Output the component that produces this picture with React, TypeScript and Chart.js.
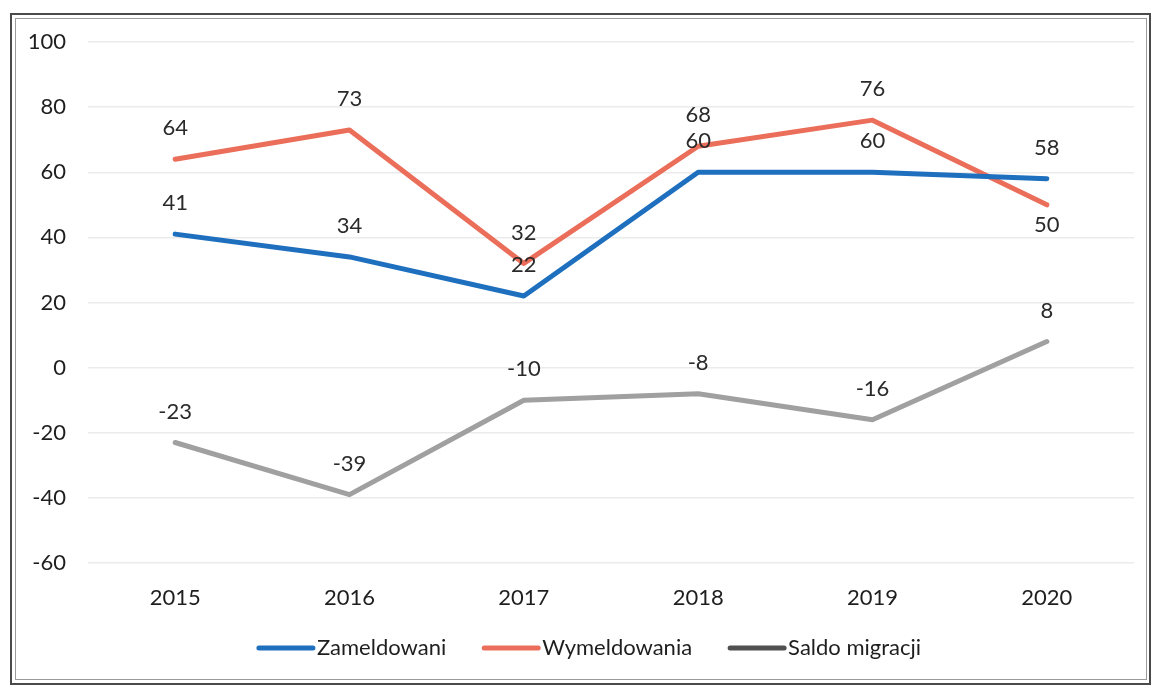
import React, { useEffect, useRef } from "react";
import { Chart, registerables } from "chart.js";

Chart.register(...registerables);

const years = ["2015", "2016", "2017", "2018", "2019", "2020"];
const zameldowani = [41, 34, 22, 60, 60, 58];
const wymeldowania = [64, 73, 32, 68, 76, 50];
const saldoMigracji = [-23, -39, -10, -8, -16, 8];
const seriesNames = ["Zameldowani", "Wymeldowania", "Saldo migracji"];
const yTicks = [100, 80, 60, 40, 20, 0, -20, -40, -60];
// where each value label sits relative to its point
const labelSides = [
  ["above", "above", "above", "above", "above", "above"],
  ["above", "above", "above", "above", "above", "below"],
  ["above", "above", "above", "above", "above", "above"],
];

const COLORS = ["#1f6fbf", "#eb6e5a", "#a0a0a0"];
const FONT = "Lato, 'Open Sans', sans-serif";
const TEXT = "#1e1e1e";

const labelsPlugin = {
  id: "valueLabels",
  afterDatasetsDraw(chart: any) {
    const ctx = chart.ctx;
    ctx.save();
    ctx.font = `22px ${FONT}`;
    ctx.fillStyle = "#2a2a2a";
    ctx.textAlign = "center";
    ctx.textBaseline = "middle";
    chart.data.datasets.forEach((ds: any, di: number) => {
      const meta = chart.getDatasetMeta(di);
      meta.data.forEach((pt: any, i: number) => {
        const side = labelSides[di][i];
        const y = side === "below" ? pt.y + 20 : pt.y - 31;
        ctx.fillText(String(ds.data[i]), pt.x, y);
      });
    });
    ctx.restore();
  },
};

const framePlugin = {
  id: "frameLegend",
  beforeDraw(chart: any) {
    const ctx = chart.ctx;
    ctx.save();
    ctx.fillStyle = "#ffffff";
    ctx.fillRect(0, 0, chart.width, chart.height);
    ctx.strokeStyle = "#4a4a4a";
    ctx.lineWidth = 2;
    ctx.strokeRect(11, 14, 1139, 670);
    ctx.strokeStyle = "#9a9a9a";
    ctx.lineWidth = 1;
    ctx.strokeRect(15.5, 18.5, 1131, 661);
    ctx.restore();
  },
  afterDraw(chart: any) {
    const ctx = chart.ctx;
    ctx.save();
    ctx.font = `22px ${FONT}`;
    ctx.textBaseline = "middle";
    ctx.textAlign = "left";
    const y = 648;
    const lineW = 58;
    const gap = 2;
    const spacing = 36;
    const widths = seriesNames.map((n) => lineW + gap + ctx.measureText(n).width);
    const total = widths.reduce((a, b) => a + b, 0) + spacing * (widths.length - 1);
    let x = 589 - total / 2;
    seriesNames.forEach((name, i) => {
      ctx.strokeStyle = i === 2 ? "#505050" : COLORS[i];
      ctx.lineWidth = 5;
      ctx.lineCap = "round";
      ctx.beginPath();
      ctx.moveTo(x + 2, y);
      ctx.lineTo(x + lineW - 2, y);
      ctx.stroke();
      ctx.fillStyle = TEXT;
      ctx.fillText(name, x + lineW + gap, y);
      x += widths[i] + spacing;
    });
    ctx.restore();
  },
};

export default function App() {
  const ref = useRef<HTMLCanvasElement | null>(null);
  useEffect(() => {
    if (!ref.current) return;
    const series = [zameldowani, wymeldowania, saldoMigracji];
    const chart = new Chart(ref.current, {
      type: "line",
      data: {
        labels: years,
        datasets: series.map((d, i) => ({
          label: seriesNames[i],
          data: d,
          borderColor: COLORS[i],
          backgroundColor: COLORS[i],
          borderWidth: 5,
          pointRadius: 0,
          tension: 0,
          borderCapStyle: "round",
          borderJoinStyle: "round",
        })),
      },
      options: {
        responsive: false,
        animation: false,
        layout: { padding: { top: 42, right: 19, bottom: 74, left: 0 } },
        plugins: {
          legend: { display: false },
          tooltip: { enabled: false },
        },
        scales: {
          x: {
            offset: true,
            grid: { display: false, drawTicks: false },
            border: { display: false },
            ticks: {
              padding: 22,
              color: TEXT,
              font: { family: FONT, size: 22 },
            },
            afterFit: (axis: any) => {
              axis.height = 50;
            },
          },
          y: {
            min: -60,
            max: 100,
            afterBuildTicks: (axis: any) => {
              axis.ticks = yTicks.map((v) => ({ value: v }));
            },
            grid: { color: "#ebebeb", lineWidth: 1.5, drawTicks: false },
            border: { display: false },
            ticks: {
              padding: 22,
              color: TEXT,
              font: { family: FONT, size: 22 },
            },
            afterFit: (axis: any) => {
              axis.width = 88;
            },
          },
        },
      },
      plugins: [labelsPlugin, framePlugin],
    });
    return () => chart.destroy();
  }, []);
  return (
    <div style={{ position: "absolute", left: 0, top: 0, width: 1153, height: 687, background: "#fff" }}>
      <canvas ref={ref} width={1153} height={687} style={{ width: 1153, height: 687, display: "block" }} />
    </div>
  );
}
